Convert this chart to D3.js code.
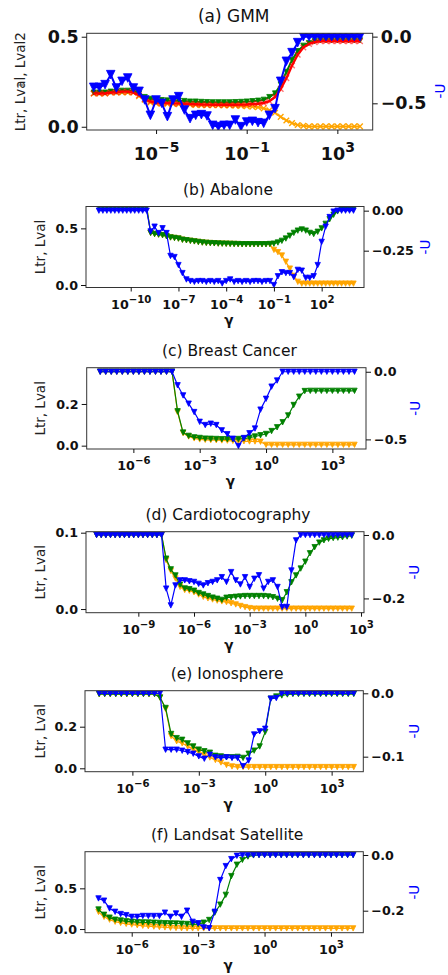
<!DOCTYPE html>
<html>
<head>
<meta charset="utf-8">
<script src="https://cdn.jsdelivr.net/npm/d3@7"></script>
<style>
  body { margin: 0; background: #fff; }
  svg { display: block; }
  text { font-family: "DejaVu Sans", sans-serif; }
</style>
</head>
<body>
<div id="chart"></div>
<script>
// gamma grids (log10 of gamma)
var gammaExpA = [-7.75,-7.5,-7.25,-7,-6.75,-6.5,-6.25,-6,-5.75,-5.5,-5.25,-5,-4.75,-4.5,-4.25,-4,
  -3.75,-3.5,-3.25,-3,-2.75,-2.5,-2.25,-2,-1.75,-1.5,-1.25,-1,-0.75,-0.5,-0.25,0,
  0.25,0.5,0.75,1,1.25,1.5,1.75,2,2.25,2.5,2.75,3,3.25,3.5,3.75,4];
var gammaExpB = [-12,-11.75,-11.5,-11.25,-11,-10.75,-10.5,-10.25,-10,-9.75,-9.5,-9.25,-9,
  -8.75,-8.5,-8.25,-8,-7.75,-7.5,-7.25,-7,-6.75,-6.5,-6.25,-6,-5.75,
  -5.5,-5.25,-5,-4.75,-4.5,-4.25,-4,-3.75,-3.5,-3.25,-3,-2.75,-2.5,
  -2.25,-2,-1.75,-1.5,-1.25,-1,-0.75,-0.5,-0.25,0,0.25,0.5,0.75,
  1,1.25,1.5,1.75,2,2.25,2.5,2.75,3,3.25,3.5,3.75,4];
var gammaExp = [-7.5,-7.25,-7,-6.75,-6.5,-6.25,-6,-5.75,-5.5,-5.25,-5,-4.75,-4.5,-4.25,
  -4,-3.75,-3.5,-3.25,-3,-2.75,-2.5,-2.25,-2,-1.75,-1.5,-1.25,
  -1,-0.75,-0.5,-0.25,0,0.25,0.5,0.75,
  1,1.25,1.5,1.75,2,2.25,2.5,2.75,3,3.25,3.5,3.75,4];
var gammaExpD = [-11.25,-11,-10.75,-10.5,-10.25,-10,-9.75,-9.5,-9.25,-9,-8.75,-8.5,-8.25,-8,-7.75,
  -7.5,-7.25,-7,-6.75,-6.5,-6.25,-6,-5.75,-5.5,-5.25,
  -5,-4.75,-4.5,-4.25,-4,-3.75,-3.5,-3.25,-3,-2.75,
  -2.5,-2.25,-2,-1.75,-1.5,-1.25,-1,-0.75,-0.5,-0.25,
  0,0.25,0.5,0.75,1,1.25,1.5,1.75,2,2.25,2.5];

// (a) GMM
var ltrA = [0.185,0.185,0.185,0.19,0.19,0.19,0.19,0.19,
  0.17,0.15,0.135,0.13,0.128,0.127,0.126,0.125,
  0.124,0.122,0.121,0.12,0.12,0.119,0.119,0.118,
  0.118,0.117,0.116,0.114,0.112,0.108,0.102,0.092,
  0.078,0.055,0.035,0.02,0.01,0.005,0.002,0.002,
  0.002,0.002,0.002,0.002,0.002,0.002,0.002,0.002];
var lvalA = [0.19,0.19,0.19,0.195,0.195,0.2,0.2,0.2,
  0.185,0.165,0.155,0.15,0.148,0.146,0.145,0.145,
  0.143,0.14,0.14,0.138,0.137,0.136,0.136,0.136,
  0.136,0.137,0.138,0.14,0.142,0.145,0.15,0.165,
  0.185,0.235,0.305,0.37,0.42,0.45,0.465,0.475,
  0.48,0.48,0.48,0.48,0.48,0.48,0.48,0.48];
var lval2A = [0.185,0.185,0.185,0.19,0.19,0.195,0.195,0.19,
  0.175,0.155,0.14,0.135,0.133,0.132,0.13,0.13,
  0.128,0.126,0.125,0.124,0.123,0.122,0.122,0.122,
  0.122,0.122,0.123,0.124,0.126,0.128,0.132,0.142,
  0.165,0.21,0.27,0.34,0.4,0.44,0.46,0.47,
  0.475,0.475,0.475,0.475,0.475,0.475,0.475,0.475];
var negUA = [-0.38,-0.38,-0.36,-0.285,-0.385,-0.335,-0.31,-0.385,
  -0.41,-0.475,-0.59,-0.475,-0.5,-0.6,-0.475,-0.45,
  -0.55,-0.615,-0.59,-0.585,-0.595,-0.665,-0.675,-0.665,
  -0.665,-0.625,-0.675,-0.64,-0.635,-0.645,-0.65,-0.59,
  -0.54,-0.335,-0.185,-0.12,-0.045,0,0,0,
  0,0,0,0,0,0,0,0];

// (b) Abalone
var ltrB = [0.69,0.69,0.69,0.69,0.69,0.69,0.69,0.69,0.69,0.69,0.69,0.69,0.69,
  0.46,0.45,0.445,0.44,0.43,0.42,0.415,0.41,0.4,0.395,0.39,0.385,0.38,
  0.375,0.372,0.37,0.368,0.366,0.365,0.364,0.363,0.362,0.361,0.36,0.36,0.36,
  0.36,0.36,0.36,0.36,0.36,0.31,0.29,0.26,0.205,0.145,0.08,0.028,0.012,
  0.012,0.012,0.012,0.012,0.012,0.012,0.012,0.012,0.012,0.012,0.012,0.012,0.012];
var lvalB = [0.69,0.69,0.69,0.69,0.69,0.69,0.69,0.69,0.69,0.69,0.69,0.69,0.69,
  0.46,0.45,0.445,0.44,0.43,0.42,0.415,0.41,0.4,0.395,0.39,0.385,0.38,
  0.375,0.372,0.37,0.368,0.366,0.365,0.364,0.363,0.362,0.361,0.36,0.36,0.36,
  0.36,0.36,0.36,0.36,0.362,0.365,0.375,0.39,0.41,0.435,0.46,0.48,0.49,
  0.48,0.46,0.45,0.47,0.5,0.54,0.58,0.62,0.65,0.665,0.67,0.67,0.67];
var negUB = [0,0,0,0,0,0,0,0,0,0,0,0,0,
  -0.13,-0.1,-0.14,-0.11,-0.14,-0.283,-0.29,-0.34,-0.39,-0.43,-0.44,-0.445,-0.44,
  -0.44,-0.445,-0.44,-0.445,-0.44,-0.455,-0.44,-0.43,-0.445,-0.44,-0.445,-0.44,-0.445,
  -0.44,-0.44,-0.445,-0.44,-0.44,-0.465,-0.41,-0.385,-0.39,-0.39,-0.415,-0.37,-0.375,
  -0.42,-0.42,-0.41,-0.34,-0.195,-0.1,-0.04,-0.006,0,0,0,0,0];

// (c) Breast Cancer
var ltrC = [0.355,0.355,0.355,0.355,0.355,0.355,0.355,0.355,0.355,0.355,0.355,0.355,0.355,0.355,
  0.16,0.06,0.044,0.035,0.03,0.028,0.027,0.026,0.025,0.024,0.023,0.022,
  0.021,0.02,0.02,0.019,0.004,0.004,0.004,0.004,
  0.004,0.004,0.004,0.004,0.004,0.004,0.004,0.004,0.004,0.004,0.004,0.004,0.004];
var lvalC = [0.355,0.355,0.355,0.355,0.355,0.355,0.355,0.355,0.355,0.355,0.355,0.355,0.355,0.355,
  0.165,0.063,0.047,0.04,0.037,0.034,0.033,0.032,0.031,0.031,0.031,0.032,
  0.034,0.038,0.044,0.05,0.056,0.07,0.088,0.112,
  0.145,0.195,0.235,0.262,0.263,0.263,0.263,0.263,0.263,0.263,0.263,0.263,0.263];
var negUC = [0,0,0,0,0,0,0,0,0,0,0,0,0,0,
  -0.1,-0.175,-0.236,-0.298,-0.37,-0.394,-0.384,-0.394,-0.433,-0.462,-0.495,-0.549,
  -0.49,-0.455,-0.42,-0.28,-0.2,-0.11,-0.065,0,
  0,0,0,0,0,0,0,0,0,0,0,0,0];

// (d) Cardiotocography
var ltrD = [0.097,0.097,0.097,0.097,0.097,0.097,0.097,0.097,0.097,0.097,0.097,0.097,0.097,0.097,0.097,
  0.064,0.05,0.04,0.029,0.025,0.024,0.022,0.019,0.016,0.014,
  0.0125,0.011,0.01,0.009,0.0075,0.006,0.004,0.0025,0.0012,0.0005,
  0.0005,0.0005,0.0005,0.0005,0.0005,0.0005,0.0005,0.0005,0.0005,0.0005,
  0.0005,0.0005,0.0005,0.0005,0.0005,0.0005,0.0005,0.0005,0.0005,0.0005,0.0005];
var lvalD = [0.097,0.097,0.097,0.097,0.097,0.097,0.097,0.097,0.097,0.097,0.097,0.097,0.097,0.097,0.097,
  0.066,0.052,0.044,0.032,0.027,0.026,0.024,0.021,0.019,0.017,
  0.015,0.0135,0.012,0.0148,0.0155,0.016,0.0165,0.017,0.017,0.017,
  0.017,0.017,0.0165,0.0155,0.0135,0.0115,0.022,0.035,0.044,0.053,
  0.062,0.073,0.081,0.087,0.09,0.092,0.093,0.0935,0.094,0.095,0.096];
var negUD = [0,0,0,0,0,0,0,0,0,0,0,0,0,0,0,
  -0.169,-0.222,-0.159,-0.143,-0.143,-0.146,-0.148,-0.154,-0.159,-0.152,
  -0.148,-0.143,-0.133,-0.148,-0.117,-0.143,-0.156,-0.133,-0.164,-0.138,
  -0.127,-0.169,-0.148,-0.143,-0.164,-0.227,-0.227,-0.112,-0.017,0,
  0,0,0,0,0,0,0,0,0,0,0];

// (e) Ionosphere
var ltrE = [0.357,0.357,0.357,0.357,0.357,0.357,0.357,0.357,0.357,0.357,0.357,
  0.34,0.285,0.155,0.13,0.12,0.105,0.09,0.078,0.064,0.052,0.04,0.028,
  0.016,0.009,0.006,0.006,0.006,0.006,0.006,0.006,0.006,0.006,0.006,0.006,
  0.006,0.006,0.006,0.006,0.006,0.006,0.006,0.006,0.006,0.006,0.006,0.006];
var lvalE = [0.357,0.357,0.357,0.357,0.357,0.357,0.357,0.357,0.357,0.357,0.357,
  0.34,0.29,0.165,0.145,0.137,0.12,0.105,0.09,0.082,0.075,0.06,0.057,
  0.053,0.053,0.055,0.05,0.07,0.085,0.105,0.175,0.335,0.345,0.35,0.355,
  0.357,0.357,0.357,0.357,0.357,0.357,0.357,0.357,0.357,0.357,0.357,0.357];
var negUE = [0,0,0,0,0,0,0,0,0,0,0,0,
  -0.089,-0.089,-0.089,-0.0906,-0.0927,-0.0953,-0.0995,-0.1032,-0.097,-0.101,-0.102,
  -0.101,-0.102,-0.102,-0.115,-0.106,-0.065,-0.06,-0.056,-0.0085,-0.0075,
  0,0,0,0,0,0,0,0,0,0,0,0,0,0];

// (f) Landsat Satellite
var ltrF = [0.21,0.15,0.115,0.09,0.075,0.063,0.055,0.047,0.04,0.035,0.03,0.025,
  0.02,0.016,0.013,0.01,
  0.008,0.008,0.008,0.008,0.008,0.008,0.008,0.008,0.008,0.008,0.008,0.008,0.008,0.008,0.008,0.008,
  0.008,0.008,0.008,0.008,0.008,0.008,0.008,0.008,0.008,0.008,0.008,0.008,0.008,0.008,0.008];
var lvalF = [0.24,0.175,0.14,0.115,0.105,0.095,0.09,0.085,0.082,0.08,0.078,0.075,
  0.072,0.07,0.068,0.065,0.062,0.058,0.06,0.078,0.111,0.2,0.3,0.42,
  0.65,0.79,0.85,0.89,0.905,
  0.91,0.91,0.91,0.91,0.91,0.91,0.91,0.91,0.91,0.91,0.91,0.91,0.91,0.91,0.91,0.91,0.91,0.91];
var negUF = [-0.156,-0.164,-0.192,-0.204,-0.212,-0.216,-0.222,-0.222,-0.219,-0.219,-0.219,-0.219,
  -0.207,-0.222,-0.21,-0.222,-0.2,-0.24,-0.245,-0.26,-0.263,-0.204,-0.09,-0.04,
  -0.015,-0.003,
  0,0,0,0,0,0,0,0,0,0,0,0,0,0,0,0,0,0,0,0,0];

// tick values
var xTicksA = [-5, -1, 3];
var xTicksB = [-10, -7, -4, -1, 2];
var xTicksC = [-6, -3, 0, 3];
var xTicksD = [-9, -6, -3, 0, 3];

var width = 448, height = 975;
var svg = d3.select("#chart").append("svg")
    .attr("width", width)
    .attr("height", height);

var ORANGE = "#ffa500", GREEN = "#008000", BLUE = "#0000ff", RED = "#ff0000";

function series(exps, vals, axis, color, marker, r, lw, extra) {
    var pts = exps.map(function(e, i) { return {e: e, v: vals[i]}; });
    return Object.assign({pts: pts, axis: axis, color: color, marker: marker, r: r, lw: lw}, extra || {});
}

var panels = [
  { title: "(a) GMM", left: 86.7, right: 372.7, top: 33.3, bottom: 130,
    xMin: -8.06, xMax: 4.56, yL: [-0.018, 0.519], yR: [-0.70, 0.025],
    lTicks: [0, 0.5], lFmt: ".1f", rTicks: [0, -0.5], rFmt: ".1f", xTicks: xTicksA,
    tickFs: 17.5, titleFs: 17, titleDx: 4, xLabY: 29.5,
    yLabel: "Ltr, Lval, Lval2", yLabX: 20, rLabX: 440, rLabY: 91, showGamma: false,
    lines: [
      series(gammaExpA, ltrA, "L", ORANGE, "x", 2.8, 2),
      series(gammaExpA, lvalA, "L", GREEN, "v", 2.6, 2),
      series(gammaExpA, lval2A, "L", RED, "x", 2.8, 2.4, {mOpacity: 0.55}),
      series(gammaExpA, negUA, "R", BLUE, "v", 4.3, 2)
    ] },
  { title: "(b) Abalone", left: 86, right: 364, top: 206.5, bottom: 287.5,
    xMin: -12.81, xMax: 4.66, yL: [-0.022, 0.693], yR: [-0.48, 0.026],
    lTicks: [0, 0.5], lFmt: ".1f", rTicks: [0, -0.25], rFmt: ".2f", xTicks: xTicksB,
    rLabX: 425,
    lines: [
      series(gammaExpB, ltrB, "L", ORANGE, "v", 2.7, 1.2),
      series(gammaExpB, lvalB, "L", GREEN, "v", 2.7, 1.2),
      series(gammaExpB, negUB, "R", BLUE, "v", 2.7, 1.2)
    ] },
  { title: "(c) Breast Cancer", left: 86.7, right: 366, top: 367.7, bottom: 449,
    xMin: -8.11, xMax: 4.52, yL: [-0.016, 0.374], yR: [-0.571, 0.03],
    lTicks: [0, 0.2], lFmt: ".1f", rTicks: [0, -0.5], rFmt: ".1f", xTicks: xTicksC,
    rLabX: 415,
    lines: [
      series(gammaExp, ltrC, "L", ORANGE, "v", 2.7, 1.2),
      series(gammaExp, lvalC, "L", GREEN, "v", 2.7, 1.2),
      series(gammaExp, negUC, "R", BLUE, "v", 2.7, 1.2)
    ] },
  { title: "(d) Cardiotocography", left: 86, right: 364, top: 531.7, bottom: 612.7,
    xMin: -11.82, xMax: 3.16, yL: [-0.0048, 0.1013], yR: [-0.245, 0.0104],
    lTicks: [0, 0.1], lFmt: ".1f", rTicks: [0, -0.2], rFmt: ".1f", xTicks: xTicksD,
    rLabX: 414,
    lines: [
      series(gammaExpD, ltrD, "L", ORANGE, "v", 2.7, 1.2),
      series(gammaExpD, lvalD, "L", GREEN, "v", 2.7, 1.2),
      series(gammaExpD, negUD, "R", BLUE, "v", 2.7, 1.2)
    ] },
  { title: "(e) Ionosphere", left: 85, right: 363.3, top: 690.7, bottom: 771.7,
    xMin: -8.14, xMax: 4.43, yL: [-0.0163, 0.373], yR: [-0.1237, 0.0041],
    lTicks: [0, 0.2], lFmt: ".1f", rTicks: [0, -0.1], rFmt: ".1f", xTicks: xTicksC,
    rLabX: 414,
    lines: [
      series(gammaExp, ltrE, "L", ORANGE, "v", 2.7, 1.2),
      series(gammaExp, lvalE, "L", GREEN, "v", 2.7, 1.2),
      series(gammaExp, negUE, "R", BLUE, "v", 2.7, 1.2)
    ] },
  { title: "(f) Landsat Satellite", left: 85, right: 363.3, top: 851.7, bottom: 932.7,
    xMin: -8.11, xMax: 4.46, yL: [-0.045, 0.95], yR: [-0.279, 0.0118],
    lTicks: [0, 0.5], lFmt: ".1f", rTicks: [0, -0.2], rFmt: ".1f", xTicks: xTicksC,
    rLabX: 414,
    lines: [
      series(gammaExp, ltrF, "L", ORANGE, "v", 2.7, 1.2),
      series(gammaExp, lvalF, "L", GREEN, "v", 2.7, 1.2),
      series(gammaExp, negUF, "R", BLUE, "v", 2.7, 1.2)
    ] }
];

function markerPath(type, r) {
    if (type === "v") return "M" + (-r) + "," + (-r) + "L" + r + "," + (-r) + "L0," + r + "Z";
    return "M" + (-r) + "," + (-r) + "L" + r + "," + r + "M" + (-r) + "," + r + "L" + r + "," + (-r);
}

function supText(e) {
    return e < 0 ? "\u2212" + Math.abs(e) : String(e);
}

// d3.axis overwrites font attrs on its group, so set them after the call
function tickStyle(a, fs) {
    a.attr("font-family", "DejaVu Sans")
     .attr("font-size", fs)
     .attr("font-weight", "bold")
     .attr("color", "#111");
    a.select(".domain").remove();
}

panels.forEach(function(p, idx) {
    var tickFs = p.tickFs || 12.7;
    var g = svg.append("g");

    var x = d3.scaleLog()
        .domain([Math.pow(10, p.xMin), Math.pow(10, p.xMax)])
        .range([p.left, p.right]);
    var yL = d3.scaleLinear().domain(p.yL).range([p.bottom, p.top]);
    var yR = d3.scaleLinear().domain(p.yR).range([p.bottom, p.top]);

    var clipId = "clip" + idx;
    svg.append("clipPath").attr("id", clipId)
      .append("rect")
        .attr("x", p.left).attr("y", p.top)
        .attr("width", p.right - p.left).attr("height", p.bottom - p.top);

    var plot = g.append("g").attr("clip-path", "url(#" + clipId + ")");

    p.lines.forEach(function(s) {
        var ys = s.axis === "L" ? yL : yR;
        plot.append("path")
            .datum(s.pts)
            .attr("fill", "none")
            .attr("stroke", s.color)
            .attr("stroke-width", s.lw)
            .attr("stroke-linejoin", "round")
            .attr("d", d3.line()
                .x(function(d) { return x(Math.pow(10, d.e)); })
                .y(function(d) { return ys(d.v); }));

        plot.selectAll(null)
            .data(s.pts)
            .enter().append("path")
            .attr("transform", function(d) {
                return "translate(" + x(Math.pow(10, d.e)) + "," + ys(d.v) + ")";
            })
            .attr("d", markerPath(s.marker, s.r))
            .attr("fill", s.marker === "v" ? s.color : "none")
            .attr("stroke", s.color)
            .attr("stroke-width", s.marker === "v" ? 0.8 : 1.4)
            .attr("opacity", s.mOpacity || 1);
    });

    // frame
    g.append("rect")
        .attr("x", p.left).attr("y", p.top)
        .attr("width", p.right - p.left).attr("height", p.bottom - p.top)
        .attr("fill", "none").attr("stroke", "#333").attr("stroke-width", 1);

    // left axis
    g.append("g")
        .attr("transform", "translate(" + p.left + ",0)")
        .call(d3.axisLeft(yL).tickValues(p.lTicks).tickFormat(d3.format(p.lFmt))
            .tickSize(5).tickPadding(3))
        .call(tickStyle, tickFs);

    // right axis
    g.append("g")
        .attr("transform", "translate(" + p.right + ",0)")
        .call(d3.axisRight(yR).tickValues(p.rTicks).tickFormat(d3.format(p.rFmt))
            .tickSize(5).tickPadding(3))
        .call(tickStyle, tickFs);

    // bottom axis with 10^k labels
    var xa = g.append("g")
        .attr("transform", "translate(0," + p.bottom + ")")
        .call(d3.axisBottom(x).tickValues(p.xTicks.map(function(e) { return Math.pow(10, e); }))
            .tickFormat(function() { return "10"; }).tickSize(4))
        .call(tickStyle, tickFs);
    xa.selectAll(".tick text")
        .attr("y", p.xLabY || 21)
        .attr("dy", null)
        .each(function(d) {
            var e = Math.round(Math.log10(d));
            d3.select(this).append("tspan")
                .attr("font-size", tickFs * 0.8)
                .attr("dy", -tickFs * 0.45)
                .text(supText(e));
        });

    var cx = (p.left + p.right) / 2;
    var cy = (p.top + p.bottom) / 2;

    // title
    g.append("text")
        .attr("x", cx + (p.titleDx || 3))
        .attr("y", p.top - 11.5)
        .attr("text-anchor", "middle")
        .attr("font-size", p.titleFs || 15.5)
        .attr("fill", "#111")
        .text(p.title);

    // left label
    var lx = p.yLabX || 40.5;
    g.append("text")
        .attr("transform", "translate(" + lx + "," + cy + ") rotate(-90)")
        .attr("text-anchor", "middle")
        .attr("dy", "0.35em")
        .attr("font-size", 13.5)
        .attr("fill", "#222")
        .text(p.yLabel || "Ltr, Lval");

    // right label
    g.append("text")
        .attr("transform", "translate(" + p.rLabX + "," + (p.rLabY || cy) + ") rotate(-90)")
        .attr("text-anchor", "middle")
        .attr("dy", "0.35em")
        .attr("font-size", 13.5)
        .attr("fill", BLUE)
        .text("-U");

    if (p.showGamma !== false) {
        g.append("text")
            .attr("x", cx + 4)
            .attr("y", p.bottom + 37)
            .attr("text-anchor", "middle")
            .attr("font-size", 13.6)
            .attr("font-weight", "bold")
            .attr("fill", "#111")
            .text("\u03b3");
    }
});

// small stray mark beside the (a) label, as in the original figure
svg.append("line")
    .attr("x1", 18).attr("x2", 25).attr("y1", 85).attr("y2", 85)
    .attr("stroke", "#444").attr("stroke-width", 1);
</script>
</body>
</html>
